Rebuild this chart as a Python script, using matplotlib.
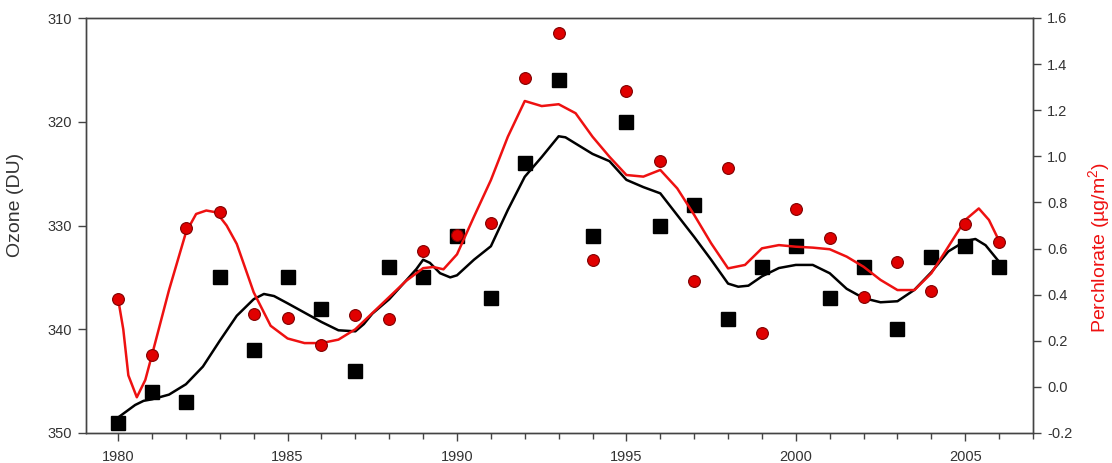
import matplotlib
matplotlib.use("Agg")
import matplotlib.pyplot as plt
from matplotlib.ticker import MultipleLocator

plt.rcParams['font.family'] = ['Liberation Sans', 'DejaVu Sans']
plt.rcParams['mathtext.default'] = 'regular'

# ---- data ----
years = list(range(1980, 2007))
ozone = [349, 346, 347, 335, 342, 335, 338, 344, 334, 335, 331, 337, 324, 316,
         331, 320, 330, 328, 339, 334, 332, 337, 334, 340, 333, 332, 334]
perchlorate = [0.38, 0.14, 0.69, 0.76, 0.315, 0.30, 0.18, 0.31, 0.295, 0.59,
               0.66, 0.71, 1.34, 1.535, 0.55, 1.285, 0.98, 0.46, 0.95, 0.235,
               0.77, 0.645, 0.39, 0.54, 0.415, 0.705, 0.63]

ozone_smooth_x = [1980.0, 1980.25, 1980.5, 1980.75, 1981.0, 1981.5, 1982.0, 1982.5,
                  1983.0, 1983.5, 1984.0, 1984.3, 1984.6, 1985.0, 1985.5, 1986.0,
                  1986.5, 1987.0, 1987.25, 1987.5, 1988.0, 1988.5, 1988.8, 1989.0,
                  1989.2, 1989.5, 1989.8, 1990.0, 1990.5, 1991.0, 1991.5, 1992.0,
                  1992.5, 1993.0, 1993.2, 1993.5, 1994.0, 1994.5, 1995.0, 1995.5,
                  1996.0, 1996.5, 1997.0, 1997.5, 1998.0, 1998.3, 1998.6, 1999.0,
                  1999.5, 2000.0, 2000.5, 2001.0, 2001.5, 2002.0, 2002.5, 2003.0,
                  2003.5, 2004.0, 2004.5, 2005.0, 2005.3, 2005.6, 2006.0]
ozone_smooth = [348.5, 347.9, 347.3, 346.9, 346.75, 346.3, 345.3, 343.6,
                341.1, 338.7, 337.1, 336.6, 336.8, 337.5, 338.4, 339.3,
                340.1, 340.2, 339.5, 338.5, 337.1, 335.3, 334.2, 333.3,
                333.6, 334.6, 335.0, 334.8, 333.3, 332.0, 328.5, 325.3,
                323.4, 321.4, 321.5, 322.1, 323.1, 323.8, 325.6, 326.3,
                326.9, 329.0, 331.1, 333.3, 335.6, 335.9, 335.8, 334.9,
                334.1, 333.8, 333.8, 334.6, 336.1, 337.0, 337.4, 337.3,
                336.2, 334.5, 332.5, 331.5, 331.3, 331.9, 333.5]

perc_smooth_x = [1980.0, 1980.15, 1980.3, 1980.55, 1980.8, 1981.0, 1981.5, 1982.0,
                 1982.3, 1982.6, 1982.9, 1983.2, 1983.5, 1984.0, 1984.5, 1985.0,
                 1985.5, 1986.0, 1986.5, 1987.0, 1987.5, 1988.0, 1988.5, 1989.0,
                 1989.3, 1989.6, 1990.0, 1990.5, 1991.0, 1991.5, 1992.0, 1992.5,
                 1993.0, 1993.5, 1994.0, 1994.5, 1995.0, 1995.5, 1996.0, 1996.5,
                 1997.0, 1997.5, 1998.0, 1998.5, 1999.0, 1999.5, 2000.0, 2000.5,
                 2001.0, 2001.5, 2002.0, 2002.5, 2003.0, 2003.5, 2004.0, 2004.5,
                 2005.0, 2005.4, 2005.7, 2006.0]
perc_smooth = [0.38, 0.25, 0.05, -0.045, 0.03, 0.14, 0.42, 0.67,
               0.75, 0.765, 0.757, 0.70, 0.62, 0.41, 0.265, 0.21,
               0.19, 0.19, 0.205, 0.25, 0.32, 0.39, 0.46, 0.515,
               0.52, 0.51, 0.575, 0.738, 0.897, 1.085, 1.24, 1.218,
               1.226, 1.187, 1.085, 0.998, 0.919, 0.912, 0.941, 0.861,
               0.746, 0.623, 0.514, 0.529, 0.601, 0.615, 0.608, 0.604,
               0.597, 0.565, 0.521, 0.464, 0.420, 0.420, 0.493, 0.608,
               0.724, 0.774, 0.724, 0.633]

ozone_ticks = [310, 320, 330, 340, 350]
perc_ticks = [-0.2, 0.0, 0.2, 0.4, 0.6, 0.8, 1.0, 1.2, 1.4, 1.6]
year_ticks = [1980, 1985, 1990, 1995, 2000, 2005]

# ---- figure ----
fig = plt.figure(figsize=(11.12, 4.63), dpi=100)
ax = fig.add_axes([86/1112, 1 - 433/463, (1033 - 86)/1112, (433 - 18)/463])
ax2 = ax.twinx()

spine_c = '#444444'
tick_c = '#333333'

ax.plot(ozone_smooth_x, ozone_smooth, color='black', lw=1.8, zorder=2)
ax.plot(years, ozone, 's', color='black', markersize=9.5, zorder=3)
ax2.plot(perc_smooth_x, perc_smooth, color='#ee1111', lw=1.8, zorder=2)
ax2.plot(years, perchlorate, 'o', color='#e00000', markeredgecolor='#800000',
         markeredgewidth=0.8, markersize=8.5, zorder=3)

ax.set_xlim(1979.05, 2007.0)
ax.set_ylim(350, 310)
ax2.set_ylim(-0.2, 1.6)

ax.set_xticks(year_ticks)
ax.xaxis.set_minor_locator(MultipleLocator(1))
ax.set_yticks(ozone_ticks)
ax2.set_yticks(perc_ticks)
ax2.set_yticklabels([f"{v:.1f}" for v in perc_ticks])

for a in (ax, ax2):
    for s in a.spines.values():
        s.set_color(spine_c)
        s.set_linewidth(1.0)
    a.tick_params(which='major', direction='out', length=6, width=1.0,
                  color=spine_c, labelcolor=tick_c, labelsize=10.5, pad=4)
    a.tick_params(which='minor', direction='out', length=4, width=1.0, color=spine_c)

ax.tick_params(axis='x', pad=6)
ax.set_ylabel('Ozone (DU)', fontsize=14, color='#333333')
ax2.set_ylabel('Perchlorate (µg/m$^2$)', fontsize=14, color='#ee1111')
ax.yaxis.set_label_coords(-0.065, 0.549)
ax2.yaxis.set_label_coords(1.056, 0.448)

ax.set_zorder(1)
ax2.set_zorder(2)
ax2.patch.set_visible(False)

fig.savefig('out.png', dpi=100)
